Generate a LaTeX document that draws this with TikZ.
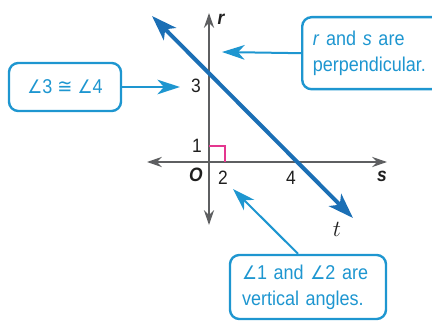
\documentclass[tikz,border=0pt]{standalone}
\usepackage{amsmath}
\usepackage{amssymb}
\usepackage{fontspec}
\setmainfont{Liberation Sans}[FakeStretch=0.9]
\newfontfamily\symfont{DejaVu Sans}[FakeStretch=0.9]
\usetikzlibrary{positioning,arrows.meta}
\definecolor{callblue}{HTML}{1E96D0}
\definecolor{lineblue}{HTML}{1B6FB5}
\definecolor{axisgray}{HTML}{5E5F61}
\definecolor{rtmag}{HTML}{E4368F}
\newcommand{\ang}{{\symfont\fontsize{14}{16}\selectfont ∠}}
\tikzset{
  axisarr/.style={{Stealth[length=11pt,width=7.5pt]}-{Stealth[length=11pt,width=7.5pt]},
                  draw=axisgray,line width=1.8pt},
  tarr/.style={{Stealth[length=19pt,width=13pt,inset=5pt]}-{Stealth[length=19pt,width=13pt,inset=5pt]},
               draw=lineblue,line width=3pt},
  callarr/.style={-{Stealth[length=17pt,width=11pt,inset=5pt]},draw=callblue,line width=1.5pt},
  callout/.style={draw=callblue,line width=1.8pt,rounded corners=7pt,text=callblue,align=left,
                  font=\fontsize{15}{19.5}\selectfont},
  numlbl/.style={text=black!88,inner sep=0pt,font=\fontsize{14.5}{16}\selectfont},
  varlbl/.style={text=black!88,inner sep=0pt,font=\fontsize{14.5}{16}\selectfont\bfseries\itshape}
}

\begin{document}
\begin{tikzpicture}[x=0.75pt,y=-0.75pt]
\clip (0,0) rectangle (432,321);
% axes and transversal
\coordinate (origin) at (209,162);
\coordinate (rtop) at (209,13);
\coordinate (rbot) at (209,225);
\coordinate (sleft) at (147,162);
\coordinate (sright) at (387,162);
\coordinate (ttop) at (152,16);
\coordinate (tbot) at (353,218);
\draw[axisarr] (rbot) -- (rtop);
\draw[axisarr] (sleft) -- (sright);
\draw[rtmag,line width=1pt] ([yshift=12pt]origin) -| ([xshift=12pt]origin);
\draw[tarr] (ttop) -- (tbot);

% labels on the figure
\node[varlbl] (rlbl) at (221,19) {r};
\node[varlbl] (slbl) at (382,176) {s};
\node[varlbl] (olbl) at (196,175) {O};
\node[numlbl] (three) at (196,86) {3};
\node[numlbl] (one) at (197,146) {1};
\node[numlbl] (two) at (223,178) {2};
\node[numlbl] (four) at (291,178) {4};
\node[text=black!88,inner sep=0pt,font=\fontsize{18}{20}\selectfont] (tlbl) at (337,229) {$t$};

% callouts
\node[callout,minimum width=84pt,minimum height=36pt,align=center] (cong) at (65,87)
   {\ang3 {\symfont≅} \ang4};
\node[callout,anchor=north west,text width=92pt,inner xsep=8pt,minimum height=54pt] (perp) at (301,16)
   {\textit{r} and \textit{s} are\\perpendicular.};
\node[callout,text width=99pt,inner xsep=9pt,minimum height=48pt] (vert) at (308,287)
   {\ang1 and \ang2 are\\vertical angles.};

\coordinate (congtip) at (180,87);
\coordinate (perptip) at (222,52);
\coordinate (verttip) at (233,189);
\draw[callarr] (cong.east) -- (congtip);
\draw[callarr] (perp.west) -- (perptip);
\draw[callarr] ([xshift=-7.5pt]vert.north) -- (verttip);
\end{tikzpicture}
\end{document}
